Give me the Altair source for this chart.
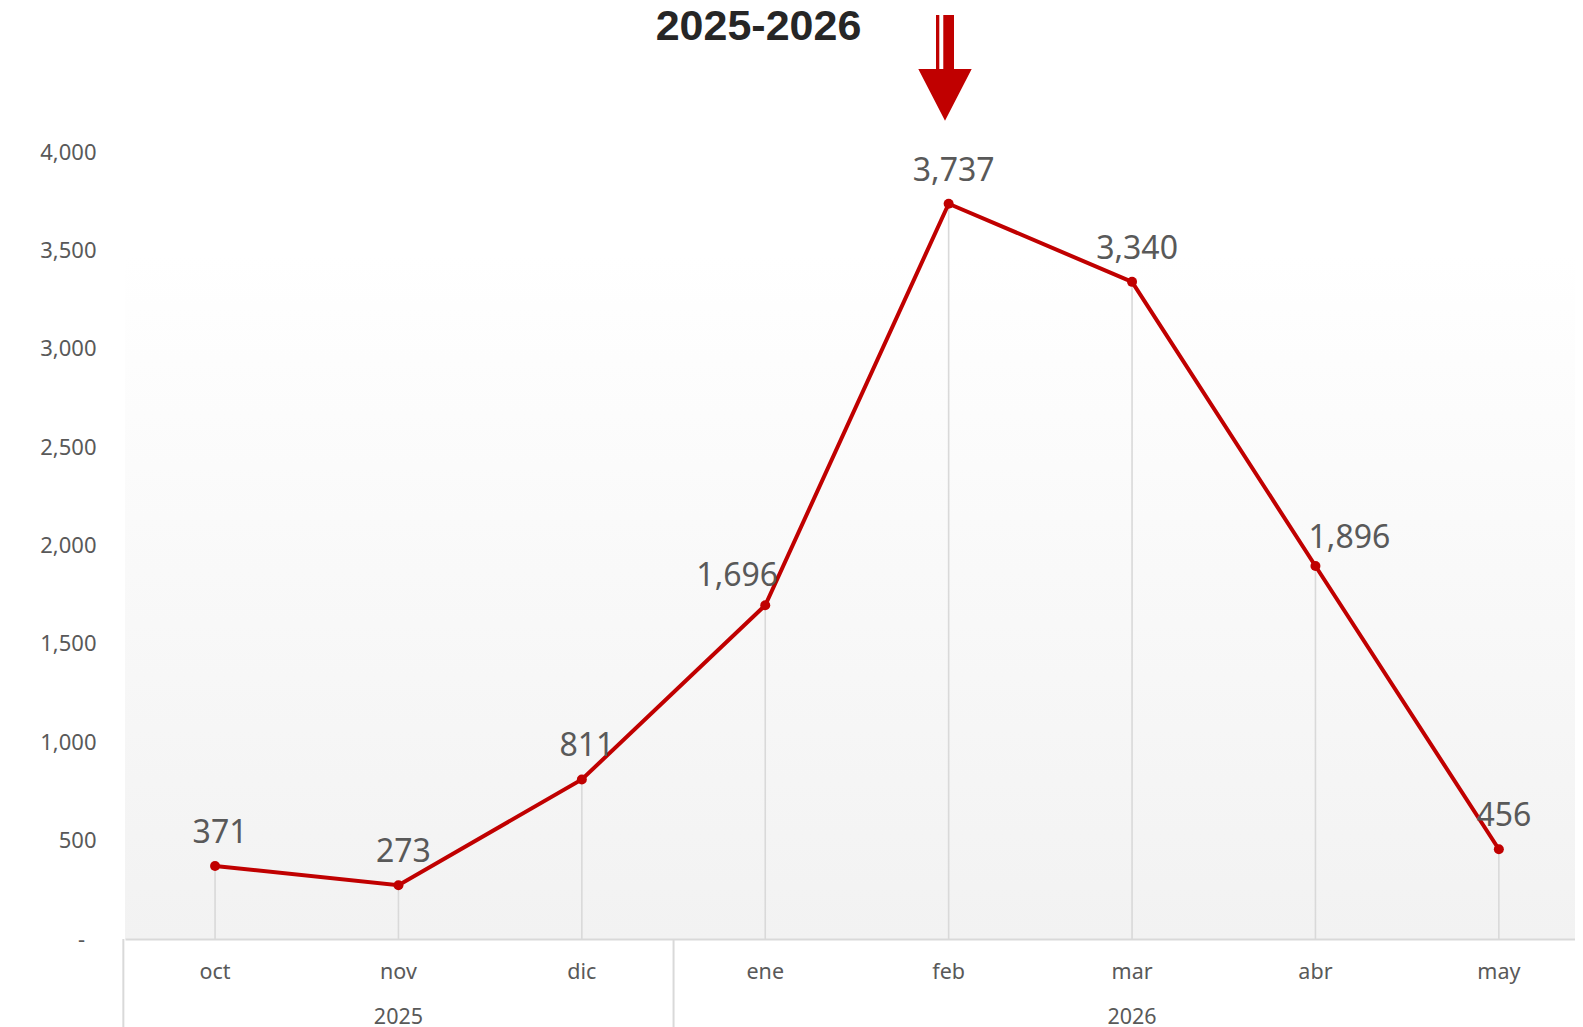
import altair as alt
import pandas as pd

# ---- data ----
months = ["oct", "nov", "dic", "ene", "feb", "mar", "abr", "may"]
years = ["2025", "2025", "2025", "2026", "2026", "2026", "2026", "2026"]
values = [371, 273, 811, 1696, 3737, 3340, 1896, 456]
y_ticks = [0, 500, 1000, 1500, 2000, 2500, 3000, 3500, 4000]
title_text = "2025-2026"

df = pd.DataFrame({"idx": list(range(len(months))), "month": months,
                   "year": years, "value": values})
df["label"] = [f"{v:,}" for v in values]
bounds = [i - 0.5 for i in range(len(years)) if i == 0 or years[i] != years[i - 1]]
df_sep = pd.DataFrame({"b": bounds})
one = pd.DataFrame({"a": [0]})

# ---- layout / style ----
W, H = 1450, 787
STEP = 183.4
X0 = -0.491
RED = "#c00000"
GREY_TXT = "#595959"
LINEC = "#d9d9d9"
FONT = "Noto Sans"

xscale = alt.Scale(domain=[X0, X0 + W / STEP], nice=False, zero=False)
yscale = alt.Scale(domain=[0, 4000], nice=False)
xaxis = alt.Axis(labels=False, ticks=False, grid=False, domainColor=LINEC,
                 domainWidth=2, title=None, zindex=1)
yaxis = alt.Axis(values=y_ticks, ticks=False, domain=False, grid=False, title=None,
                 labelExpr="datum.value == 0 ? '-\u00a0\u00a0\u200b' : format(datum.value, ',')",
                 labelFont=FONT, labelFontSize=22, labelColor=GREY_TXT, labelPadding=29)

X = alt.X("idx:Q", scale=xscale, axis=xaxis)
Y = alt.Y("value:Q", scale=yscale, axis=yaxis)

grad = alt.LinearGradient(gradient="linear",
                          stops=[alt.GradientStop(color="#ffffff", offset=0),
                                 alt.GradientStop(color="#f2f2f2", offset=1)],
                          x1=0, x2=0, y1=0, y2=1)

bg = alt.Chart(one).mark_rect(fill=grad).encode(
    x=alt.value(0), x2=alt.value(W), y=alt.value(103), y2=alt.value(H))

drops = alt.Chart(df).mark_rule(color=LINEC, strokeWidth=1.6).encode(
    x=X, y=Y, y2=alt.datum(0))

line = alt.Chart(df).mark_line(color=RED, strokeWidth=4).encode(x=X, y=Y)
pts = alt.Chart(df).mark_circle(size=100, color=RED, opacity=1).encode(x=X, y=Y)

lab_common = dict(font=FONT, fontSize=32, color=GREY_TXT, baseline="alphabetic", align="center")
labels = alt.Chart(df).transform_filter(
    "datum.month != 'ene' && datum.month != 'abr'"
).mark_text(dx=5, dy=-23, **lab_common).encode(x=X, y=Y, text="label:N")
lab_ene = alt.Chart(df).transform_filter("datum.month == 'ene'").mark_text(
    dx=-28, dy=-19, **lab_common).encode(x=X, y=Y, text="label:N")
lab_abr = alt.Chart(df).transform_filter("datum.month == 'abr'").mark_text(
    dx=34, dy=-18, **lab_common).encode(x=X, y=Y, text="label:N")

seps = alt.Chart(df_sep).mark_rule(color=LINEC, strokeWidth=2).encode(
    x=alt.X("b:Q", scale=xscale, axis=xaxis), y=alt.value(H), y2=alt.value(H + 95))

month_txt = alt.Chart(df).mark_text(font=FONT, fontSize=21.5, color=GREY_TXT,
                                    baseline="middle", align="center").encode(
    x=X, y=alt.value(H + 34), text="month:N")

year_txt = alt.Chart(df).transform_aggregate(
    center="mean(idx)", groupby=["year"]
).mark_text(font=FONT, fontSize=21.5, color=GREY_TXT, baseline="middle",
            align="center").encode(
    x=alt.X("center:Q", scale=xscale, axis=xaxis), y=alt.value(H + 79), text="year:N")

title = alt.Chart(one).mark_text(text=title_text, font="Liberation Sans", fontWeight="bold",
                                 fontSize=43, color="#262626", align="center",
                                 baseline="alphabetic").encode(
    x=alt.value(633.5), y=alt.value(-112))

arrow_path = ("M -0.337 -3.02 L -0.213 -3.02 L -0.213 -0.95 L -0.337 -0.95 Z "
              "M -0.064 -3.02 L 0.337 -3.02 L 0.337 -0.95 L -0.064 -0.95 Z "
              "M -1 -1 L 1 -1 L 0 0.936 Z")
arrow = alt.Chart(one).mark_point(shape=arrow_path, size=2852, filled=True,
                                  fill=RED, strokeWidth=0, opacity=1).encode(
    x=alt.value(820), y=alt.value(-56.3))

chart = alt.layer(bg, drops, line, pts, labels, lab_ene, lab_abr, seps,
                  month_txt, year_txt, title, arrow).properties(
    width=W, height=H,
    padding={"left": 117, "top": 144, "right": 0, "bottom": 88},
    autosize=alt.AutoSizeParams(type="none"),
    background="white",
).configure_view(stroke=None)

chart.save("out.html", embed_options={"renderer": "svg", "actions": False})
